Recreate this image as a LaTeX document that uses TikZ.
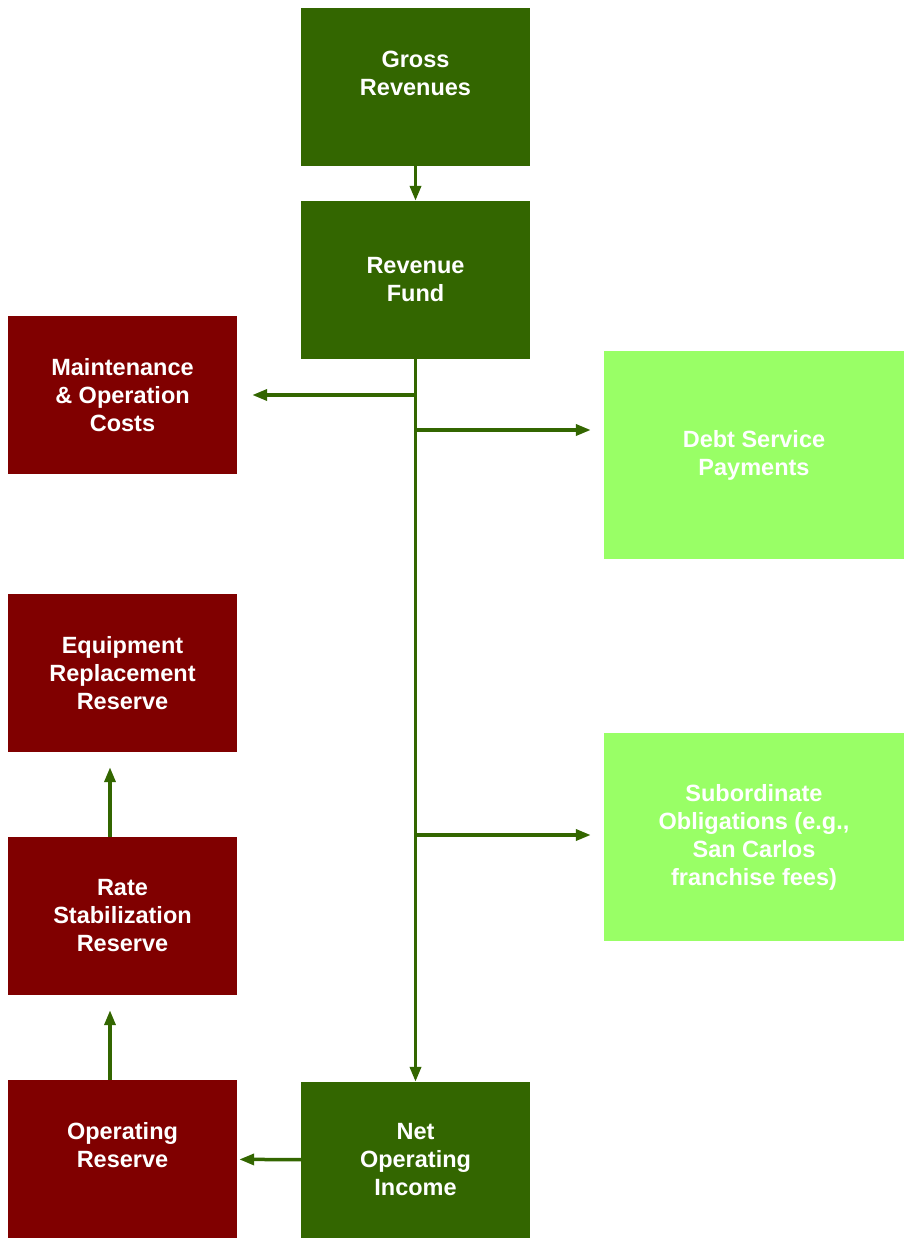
\documentclass[tikz,border=0pt]{standalone}
\usepackage{fontspec}
\setmainfont{Liberation Sans}
\usetikzlibrary{arrows.meta,positioning}
\definecolor{fundgreen}{HTML}{336600}
\definecolor{costred}{HTML}{800000}
\definecolor{paygreen}{HTML}{99FF66}
\tikzset{
    %Define standard arrow tip
    >={Triangle[length=15pt,width=11pt]},
    %Define style for boxes
    box/.style={
		rectangle,
		fill=fundgreen,
		text=white,
		font=\bfseries\fontsize{23.5}{28}\selectfont,
		minimum width=229pt,
		minimum height=158pt,
		inner sep=0pt,
		align=center},
	fund/.style = {box, fill=fundgreen},
	cost/.style = {box, fill=costred},
	pay/.style = {box, fill=paygreen, minimum width=300pt, minimum height=208pt},
	line/.style = {
		->,
		draw=fundgreen,
		line width=3.5pt}
}
\begin{document}
\begin{tikzpicture}[x=1pt, y=-1pt]
			\useasboundingbox (0,0) rectangle (904,1239);
			\node[fund] (gross) at (415.5,87) {Gross\\Revenues\\\mbox{}};
			\node[fund] (revfund) at (415.5,280) {Revenue\\Fund};
			\node[cost] (maint) at (122.5,395) {Maintenance\\\& Operation\\Costs};
			\node[pay] (debt) at (754,455) {Debt Service\\Payments};
			\node[cost] (equip) at (122.5,673) {Equipment\\Replacement\\Reserve};
			\node[pay] (subord) at (754,837) {Subordinate\\Obligations (e.g.,\\San Carlos\\franchise fees)};
			\node[cost] (rate) at (122.5,916) {Rate\\Stabilization\\Reserve};
			\node[cost] (opres) at (122.5,1159) {Operating\\Reserve\\\mbox{}};
			\node[fund, minimum height=156pt] (noi) at (415.5,1160) {Net\\Operating\\Income};
			\coordinate (tomaint) at (416,395);
			\coordinate (todebt) at (416,430);
			\coordinate (tosubord) at (416,835);
			\coordinate (uprate) at (110,1080);
			\coordinate (upequip) at (110,837);
			\path[line]	(gross)--(revfund);
			\path[line]	(revfund)--(noi);
			\path[line, shorten >=15pt]	(tomaint)--(maint);
			\path[line, shorten >=13pt]	(todebt)--(todebt -| debt.west);
			\path[line, shorten >=13pt]	(tosubord)--(tosubord -| subord.west);
			\path[line, shorten >=2pt]	(noi)--(opres);
			\path[line, shorten >=15pt]	(uprate)--(uprate |- rate.south);
			\path[line, shorten >=15pt]	(upequip)--(upequip |- equip.south);
		\end{tikzpicture}
\end{document}
